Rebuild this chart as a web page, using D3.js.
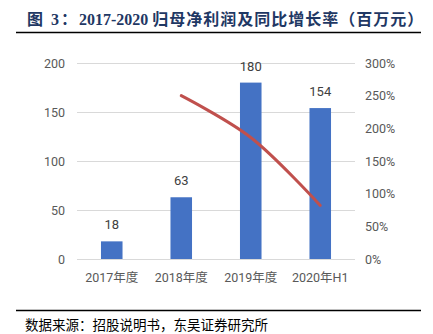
<!DOCTYPE html>
<html><head><meta charset="utf-8">
<script src="https://cdn.jsdelivr.net/npm/d3@7"></script>
<style>body{margin:0;background:#fff}svg{display:block}</style>
</head><body>
<svg id="c" width="433" height="334"></svg>
<script>
const categories = ["2017年度","2018年度","2019年度","2020年H1"];
const profit = [18, 63, 180, 154];
const growth = [null, 2.50, 1.86, 0.82];
const leftTicks = [0, 50, 100, 150, 200];
const rightTicks = [0, 0.5, 1, 1.5, 2, 2.5, 3];

const svg = d3.select("#c");
const m = {l: 77, r: 355, t: 63, b: 259};
const x = d3.scaleBand().domain(categories).range([m.l, m.r]).paddingInner(0.69).paddingOuter(0.345);
const yL = d3.scaleLinear().domain([0, 200]).range([m.b, m.t]);
const yR = d3.scaleLinear().domain([0, 3]).range([m.b, m.t]);

// title
const t = svg.append("text").attr("x", 27).attr("y", 25)
  .attr("font-family", "'Liberation Serif','Noto Sans CJK SC',serif").attr("font-weight", "bold")
  .attr("font-size", 16).attr("fill", "#1F3864");
t.append("tspan").attr("letter-spacing", 2).text("图 3：");
t.append("tspan").text("2017-2020 ");
t.append("tspan").attr("letter-spacing", 1).text("归母净利润及同比增长率（百万元）");
svg.append("line").attr("x1", 16).attr("x2", 421).attr("y1", 32.5).attr("y2", 32.5)
  .attr("stroke", "#000").attr("stroke-width", 1.5);

// gridlines
const gl = d3.axisLeft(yL).tickValues(leftTicks).tickSize(-(m.r - m.l)).tickFormat(d => d).tickPadding(12);
const gAx = svg.append("g").attr("transform", `translate(${m.l},0)`).call(gl);
gAx.select(".domain").remove();
gAx.selectAll(".tick line").attr("stroke", "#d9d9d9");
gAx.selectAll(".tick text").attr("fill", "#595959").attr("font-size", 12.5).attr("font-family", "Roboto, 'Noto Sans', sans-serif");

const ar = d3.axisRight(yR).tickValues(rightTicks).tickSize(0).tickPadding(10).tickFormat(d => Math.round(d * 100) + "%");
const rAx = svg.append("g").attr("transform", `translate(${m.r},0)`).call(ar);
rAx.select(".domain").remove();
rAx.selectAll(".tick text").attr("fill", "#595959").attr("font-size", 12.5).attr("font-family", "Roboto, 'Noto Sans', sans-serif");

// bars
svg.selectAll("rect.bar").data(profit).join("rect").attr("class", "bar")
  .attr("x", (d, i) => x(categories[i])).attr("width", x.bandwidth())
  .attr("y", d => yL(d)).attr("height", d => yL(0) - yL(d))
  .attr("fill", "#4472C4");

svg.selectAll("text.val").data(profit).join("text").attr("class", "val")
  .attr("x", (d, i) => x(categories[i]) + x.bandwidth() / 2).attr("y", d => yL(d) - 12)
  .attr("text-anchor", "middle").attr("fill", "#404040").attr("font-size", 13)
  .attr("font-family", "Roboto, 'Noto Sans', sans-serif").text(d => d);

// x axis baseline
svg.append("line").attr("x1", m.l).attr("x2", m.r).attr("y1", m.b + 0.5).attr("y2", m.b + 0.5).attr("stroke", "#d9d9d9");

svg.selectAll("text.cat").data(categories).join("text").attr("class", "cat")
  .attr("x", d => x(d) + x.bandwidth() / 2).attr("y", 282)
  .attr("text-anchor", "middle").attr("fill", "#595959").attr("font-size", 12.5)
  .attr("font-family", "Roboto, 'Noto Sans CJK SC', sans-serif").text(d => d);

// growth line
const pts = growth.map((g, i) => [categories[i], g]).filter(p => p[1] != null);
const line = d3.line().x(p => x(p[0]) + x.bandwidth() / 2).y(p => yR(p[1])).curve(d3.curveCatmullRom.alpha(0.5));
svg.append("path").datum(pts).attr("d", line).attr("fill", "none")
  .attr("stroke", "#C0504D").attr("stroke-width", 3).attr("stroke-linecap", "round");

// footer
svg.append("line").attr("x1", 16).attr("x2", 421).attr("y1", 310.5).attr("y2", 310.5)
  .attr("stroke", "#000").attr("stroke-width", 1.5);
svg.append("text").attr("x", 25).attr("y", 330)
  .attr("font-family", "'Noto Sans CJK SC', sans-serif").attr("font-size", 13.5).attr("fill", "#000")
  .text("数据来源：招股说明书，东吴证券研究所");
</script>
</body></html>
